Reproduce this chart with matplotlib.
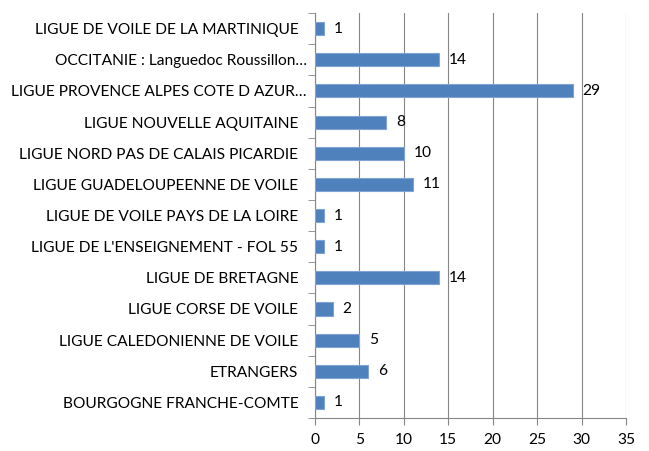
import numpy as np
import matplotlib
matplotlib.use("Agg")
import matplotlib.pyplot as plt

# Data (top to bottom as shown in the chart)
leagues = [
    "LIGUE DE VOILE DE LA MARTINIQUE",
    "OCCITANIE : Languedoc Roussillon…",
    "LIGUE PROVENCE ALPES COTE D AZUR…",
    "LIGUE NOUVELLE AQUITAINE",
    "LIGUE NORD PAS DE CALAIS PICARDIE",
    "LIGUE GUADELOUPEENNE DE VOILE",
    "LIGUE DE VOILE PAYS DE LA LOIRE",
    "LIGUE DE L'ENSEIGNEMENT - FOL 55",
    "LIGUE DE BRETAGNE",
    "LIGUE CORSE DE VOILE",
    "LIGUE CALEDONIENNE DE VOILE",
    "ETRANGERS",
    "BOURGOGNE FRANCHE-COMTE",
]
counts = [1, 14, 29, 8, 10, 11, 1, 1, 14, 2, 5, 6, 1]
x_ticks = [0, 5, 10, 15, 20, 25, 30, 35]

plt.rcParams['font.family'] = ['Lato', 'DejaVu Sans']
fs = 11.2

fig = plt.figure(figsize=(6.49, 4.51), dpi=100)
ax = fig.add_axes([0.4854, 0.0732, 0.4792, 0.8978])

n = len(leagues)
ypos = np.arange(n)[::-1]
ax.barh(ypos, counts, height=0.42, color="#4F81BD",
        edgecolor="#7FA3D3", linewidth=0.8, zorder=3)

for y, v in zip(ypos, counts):
    ax.annotate(str(v), (v, y), xytext=(7, 0), textcoords="offset points",
                va="center", ha="left", fontsize=fs, color="black")

ax.set_xlim(0, 35)
ax.set_ylim(-0.5, n - 0.5)
ax.set_xticks(x_ticks)
ax.set_xticklabels([str(t) for t in x_ticks], fontsize=fs)
ax.set_yticks(ypos)
ax.set_yticklabels(leagues, fontsize=fs)
ax.tick_params(axis="y", length=0, pad=12)
ax.set_yticks(np.arange(n + 1) - 0.5, minor=True)
ax.tick_params(axis="y", which="minor", length=5, color="#868686")
ax.tick_params(axis="x", length=5, color="#868686", pad=6)

# labels cut with an ellipsis sit a little closer to the axis
for lbl in ax.get_yticklabels():
    if lbl.get_text().endswith("…"):
        lbl.set_x(lbl.get_position()[0])
        lbl.set_transform(lbl.get_transform() +
                          matplotlib.transforms.ScaledTranslation(6 / 72, 0, fig.dpi_scale_trans))

ax.xaxis.grid(True, color="#868686", linewidth=0.8, zorder=0)
ax.set_axisbelow(True)
for s in ["top", "right"]:
    ax.spines[s].set_visible(False)
for s in ["left", "bottom"]:
    ax.spines[s].set_color("#868686")
    ax.spines[s].set_linewidth(0.8)

fig.savefig("out.png", dpi=100)
